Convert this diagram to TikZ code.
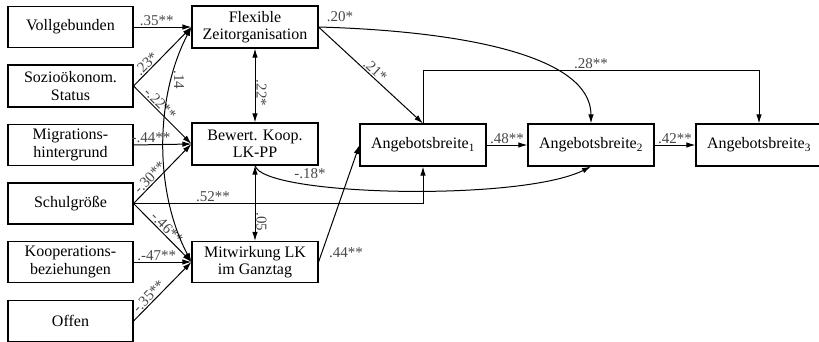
\documentclass[tikz,border=0pt]{standalone}
\usepackage{fontspec}
\setmainfont{Liberation Serif}
\usetikzlibrary{arrows.meta}
\tikzset{
  box/.style={draw, line width=1.1pt, minimum width=126pt, minimum height=41pt, align=center, inner sep=2pt, font=\fontsize{16}{17.5}\selectfont},
  lbox/.style={box, minimum width=125pt},
  lab/.style={text=black!72, font=\fontsize{15}{16}\selectfont, inner sep=1pt},
  arr/.style={-{Latex[length=9pt,width=5.5pt]}, line width=1pt},
  darr/.style={{Latex[length=9pt,width=5.5pt]}-{Latex[length=9pt,width=5.5pt]}, line width=1pt}
}
\begin{document}
\begin{tikzpicture}[x=1pt,y=-1pt]
\useasboundingbox (0,0) rectangle (819,341);
\clip (0,0) rectangle (819,341);
% left column
\node[lbox] (vg) at (70.5,27) {Vollgebunden};
\node[lbox, minimum height=42pt] (ses) at (70.5,86) {Sozioökonom.\\Status};
\node[lbox] (mig) at (70.5,145) {Migrations-\\hintergrund};
\node[lbox] (sg) at (70.5,203.5) {Schulgröße};
\node[lbox] (kb) at (70.5,262) {Kooperations-\\beziehungen};
\node[lbox] (of) at (70.5,321) {Offen};
% middle column
\node[box, minimum height=42pt] (fz) at (255,27) {Flexible\\Zeitorganisation};
\node[box, minimum height=42pt] (bk) at (255,144) {Bewert. Koop.\\LK-PP};
\node[box] (mw) at (255,262) {Mitwirkung LK\\im Ganztag};
% outcomes
\node[box, minimum height=42pt] (a1) at (423,145) {Angebotsbreite\textsubscript{1}};
\node[box, minimum height=42pt] (a2) at (591,145) {Angebotsbreite\textsubscript{2}};
\node[box, minimum height=42pt] (a3) at (759,145) {Angebotsbreite\textsubscript{3}};
% paths to FZ
\draw[arr] (vg.east) -- node[lab, above, pos=0.4] (l35) {.35**} (fz.west);
\draw[arr] (ses.east) -- node[lab, above, sloped, pos=0.3] (l23) {.23*} (fz.west);
% paths to BK
\draw[arr] (ses.east) -- node[lab, above, sloped, pos=0.38] (l22n) {-.22**} (bk.west);
\draw[arr] (mig.east) -- node[lab, above, pos=0.3] (l44n) {-.44**} (bk.west);
\draw[arr] (sg.east) -- node[lab, above, sloped, pos=0.36] (l30) {-.30**} (bk.west);
% paths to MW
\draw[arr] (sg.east) -- node[lab, above, sloped, pos=0.5] (l46) {-.46**} (mw.west);
\draw[arr] (kb.east) -- node[lab, above, pos=0.4] (l47) {.-47**} (mw.west);
\draw[arr] (of.east) -- node[lab, above, sloped, pos=0.34] (l35n) {-.35**} (mw.west);
% covariance .14
\draw[darr] (fz.west) .. controls +(-37,71) and +(-37,-70) .. (mw.west);
\node[lab, rotate=-90] (l14) at (179,80) {.14};
% covariances among mediators
\draw[darr] (fz.south) -- node[lab, rotate=-90, anchor=south, pos=0.6] (l22) {.22*} (bk.north);
\draw[darr] (bk.south) -- node[lab, rotate=-90, anchor=south, pos=0.75] (l05) {.05} (mw.north);
% Schulgröße -> A1
\draw[arr] (sg.east) -| (a1.south);
\node[lab, above] (l52) at (213,203) {.52**};
% FZ -> A1, A2
\draw[arr] (fz.east) -- node[lab, above, sloped, pos=0.5] (l21) {.21*} (a1.north);
\draw[arr] (fz.east) .. controls (460,31) and (591,55) .. (a2.north);
\node[lab] (l20) at (340,17) {.20*};
% BK -> A2
\draw[arr] (bk.south) .. controls (262,196) and (520,202) .. (a2.south);
\node[lab] (l18) at (310,174) {-.18*};
% MW -> A1
\draw[arr] (mw.east) -- (a1.west);
\node[lab] (l44) at (346,253) {.44**};
% autoregressive
\draw[arr] (a1.east) -- node[lab, above] (l48) {.48**} (a2.west);
\draw[arr] (a2.east) -- node[lab, above] (l42) {.42**} (a3.west);
\draw[arr] (a1.north) -- ++(0,-53) -| node[lab, above, pos=0.25] (l28) {.28**} (a3.north);
\end{tikzpicture}
\end{document}
